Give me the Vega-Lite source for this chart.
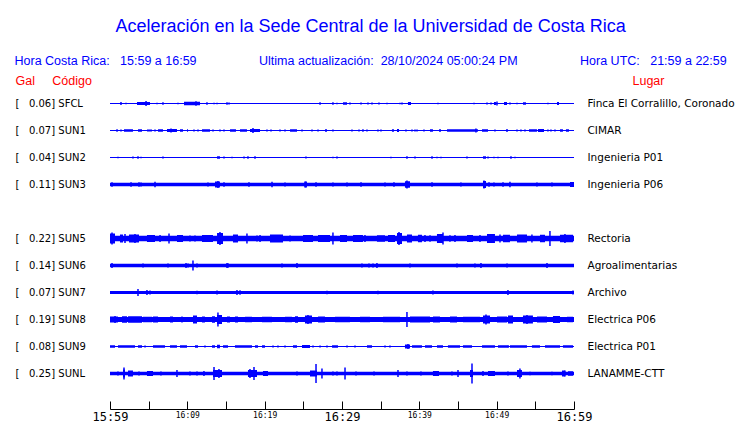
{
  "$schema": "https://vega.github.io/schema/vega-lite/v6.json",
  "width": 464,
  "height": 297,
  "autosize": {"type": "none"},
  "padding": {"left": 110, "top": 90, "right": 166, "bottom": 36},
  "background": "white",
  "config": {"view": {"stroke": null}},
  "title": {
    "text": "Aceleración en la Sede Central de la Universidad de Costa Rica",
    "subtitle": "Hora Costa Rica:\u00a0\u00a0\u00a015:59 a 16:59\u00a0\u00a0\u00a0\u00a0\u00a0\u00a0\u00a0\u00a0\u00a0\u00a0\u00a0\u00a0\u00a0\u00a0\u00a0\u00a0\u00a0\u00a0Ultima actualización:\u00a0\u00a028/10/2024 05:00:24 PM\u00a0\u00a0\u00a0\u00a0\u00a0\u00a0\u00a0\u00a0\u00a0\u00a0\u00a0\u00a0\u00a0\u00a0\u00a0\u00a0\u00a0\u00a0Hora UTC:\u00a0\u00a0\u00a021:59 a 22:59",
    "anchor": "middle",
    "frame": "bounds",
    "dx": -4,
    "font": "Liberation Sans",
    "fontSize": 18,
    "fontWeight": "normal",
    "color": "#0000ff",
    "subtitleFont": "Liberation Sans",
    "subtitleFontSize": 12.5,
    "subtitleColor": "#0000ff",
    "subtitlePadding": 19,
    "offset": 7
  },
  "datasets": {
    "tramos": [
      {"s":"SFCL","t0":0,"t1":60,"pp":0.01},
      {"s":"SFCL","t0":3.49,"t1":5.17,"pp":0.03},
      {"s":"SFCL","t0":9.57,"t1":11.64,"pp":0.035},
      {"s":"SFCL","t0":30.13,"t1":30.65,"pp":0.025},
      {"s":"SFCL","t0":38.53,"t1":38.92,"pp":0.03},
      {"s":"SFCL","t0":49.65,"t1":49.91,"pp":0.03},
      {"s":"SFCL","t0":50.95,"t1":51.34,"pp":0.03},
      {"s":"SFCL","t0":53.4,"t1":53.79,"pp":0.025},
      {"s":"SFCL","t0":57.8,"t1":58.06,"pp":0.03},

      {"s":"SUN1","t0":0,"t1":60,"pp":0.01},
      {"s":"SUN1","t0":1.81,"t1":2.97,"pp":0.025},
      {"s":"SUN1","t0":3.62,"t1":4.14,"pp":0.025},
      {"s":"SUN1","t0":4.78,"t1":5.43,"pp":0.02},
      {"s":"SUN1","t0":6.21,"t1":6.85,"pp":0.025},
      {"s":"SUN1","t0":7.37,"t1":8.66,"pp":0.03},
      {"s":"SUN1","t0":9.05,"t1":9.44,"pp":0.025},
      {"s":"SUN1","t0":9.96,"t1":10.09,"pp":0.025},
      {"s":"SUN1","t0":11.9,"t1":12.93,"pp":0.025},
      {"s":"SUN1","t0":15.52,"t1":16.29,"pp":0.025},
      {"s":"SUN1","t0":16.81,"t1":17.71,"pp":0.025},
      {"s":"SUN1","t0":18.1,"t1":19.4,"pp":0.03},
      {"s":"SUN1","t0":23.28,"t1":24.18,"pp":0.025},
      {"s":"SUN1","t0":27.8,"t1":28.06,"pp":0.025},
      {"s":"SUN1","t0":36.46,"t1":36.72,"pp":0.025},
      {"s":"SUN1","t0":37.11,"t1":37.37,"pp":0.03},
      {"s":"SUN1","t0":41.38,"t1":41.76,"pp":0.025},
      {"s":"SUN1","t0":42.54,"t1":42.8,"pp":0.025},
      {"s":"SUN1","t0":43.58,"t1":47.58,"pp":0.025},
      {"s":"SUN1","t0":48.1,"t1":48.88,"pp":0.025},
      {"s":"SUN1","t0":51.21,"t1":51.46,"pp":0.025},
      {"s":"SUN1","t0":54.18,"t1":55.21,"pp":0.025},
      {"s":"SUN1","t0":55.34,"t1":56.12,"pp":0.03},
      {"s":"SUN1","t0":58.19,"t1":58.57,"pp":0.025},
      {"s":"SUN1","t0":58.96,"t1":59.35,"pp":0.025},

      {"s":"SUN2","t0":0,"t1":60,"pp":0.01},
      {"s":"SUN2","t0":13.84,"t1":14.22,"pp":0.025},
      {"s":"SUN2","t0":48.23,"t1":48.62,"pp":0.025},

      {"s":"SUN3","t0":0,"t1":60,"pp":0.035},
      {"s":"SUN3","t0":59.48,"t1":60,"pp":0.05},
      {"s":"SUN3","t0":13.58,"t1":14.22,"pp":0.06},
      {"s":"SUN3","t0":25.21,"t1":25.47,"pp":0.06},
      {"s":"SUN3","t0":38.14,"t1":38.79,"pp":0.065},
      {"s":"SUN3","t0":48.23,"t1":48.62,"pp":0.07},

      {"s":"SUN5","t0":0,"t1":60,"pp":0.055},
      {"s":"SUN5","t0":0,"t1":0.65,"pp":0.1},
      {"s":"SUN5","t0":1.29,"t1":1.68,"pp":0.08},
      {"s":"SUN5","t0":2.46,"t1":3.75,"pp":0.08},
      {"s":"SUN5","t0":4.78,"t1":5.82,"pp":0.07},
      {"s":"SUN5","t0":8.66,"t1":9.44,"pp":0.07},
      {"s":"SUN5","t0":11.9,"t1":13.32,"pp":0.07},
      {"s":"SUN5","t0":13.84,"t1":14.61,"pp":0.11},
      {"s":"SUN5","t0":15.9,"t1":16.55,"pp":0.08},
      {"s":"SUN5","t0":20.69,"t1":22.37,"pp":0.08},
      {"s":"SUN5","t0":24.96,"t1":26.25,"pp":0.07},
      {"s":"SUN5","t0":26.9,"t1":28.45,"pp":0.07},
      {"s":"SUN5","t0":29.74,"t1":30.65,"pp":0.07},
      {"s":"SUN5","t0":31.42,"t1":32.71,"pp":0.07},
      {"s":"SUN5","t0":34.52,"t1":35.56,"pp":0.065},
      {"s":"SUN5","t0":35.95,"t1":36.85,"pp":0.07},
      {"s":"SUN5","t0":37.11,"t1":37.76,"pp":0.11},
      {"s":"SUN5","t0":38.4,"t1":39.05,"pp":0.08},
      {"s":"SUN5","t0":39.82,"t1":40.34,"pp":0.075},
      {"s":"SUN5","t0":42.28,"t1":43.06,"pp":0.09},
      {"s":"SUN5","t0":46.16,"t1":46.94,"pp":0.07},
      {"s":"SUN5","t0":48.75,"t1":49.78,"pp":0.09},
      {"s":"SUN5","t0":50.82,"t1":51.72,"pp":0.075},
      {"s":"SUN5","t0":52.63,"t1":53.92,"pp":0.08},
      {"s":"SUN5","t0":55.6,"t1":56.25,"pp":0.075},
      {"s":"SUN5","t0":58.19,"t1":59.87,"pp":0.075},

      {"s":"SUN6","t0":0,"t1":60,"pp":0.035},

      {"s":"SUN7","t0":0,"t1":60,"pp":0.03},

      {"s":"SUN8","t0":0,"t1":60,"pp":0.05},
      {"s":"SUN8","t0":0,"t1":1.03,"pp":0.06},
      {"s":"SUN8","t0":1.55,"t1":2.2,"pp":0.065},
      {"s":"SUN8","t0":2.33,"t1":4.14,"pp":0.065},
      {"s":"SUN8","t0":4.27,"t1":5.43,"pp":0.055},
      {"s":"SUN8","t0":5.56,"t1":6.21,"pp":0.06},
      {"s":"SUN8","t0":7.76,"t1":8.15,"pp":0.06},
      {"s":"SUN8","t0":10.73,"t1":11.25,"pp":0.08},
      {"s":"SUN8","t0":11.9,"t1":12.28,"pp":0.06},
      {"s":"SUN8","t0":13.19,"t1":13.58,"pp":0.065},
      {"s":"SUN8","t0":13.84,"t1":14.48,"pp":0.09},
      {"s":"SUN8","t0":15.13,"t1":15.52,"pp":0.06},
      {"s":"SUN8","t0":16.16,"t1":16.55,"pp":0.06},
      {"s":"SUN8","t0":17.46,"t1":18.36,"pp":0.055},
      {"s":"SUN8","t0":19.65,"t1":20.95,"pp":0.055},
      {"s":"SUN8","t0":22.63,"t1":23.53,"pp":0.055},
      {"s":"SUN8","t0":23.92,"t1":24.31,"pp":0.065},
      {"s":"SUN8","t0":25.21,"t1":26.12,"pp":0.08},
      {"s":"SUN8","t0":26.9,"t1":27.8,"pp":0.06},
      {"s":"SUN8","t0":29.09,"t1":31.03,"pp":0.055},
      {"s":"SUN8","t0":32.33,"t1":33.62,"pp":0.055},
      {"s":"SUN8","t0":35.3,"t1":37.5,"pp":0.055},
      {"s":"SUN8","t0":38.79,"t1":41.38,"pp":0.06},
      {"s":"SUN8","t0":41.76,"t1":42.67,"pp":0.06},
      {"s":"SUN8","t0":43.96,"t1":44.87,"pp":0.06},
      {"s":"SUN8","t0":45.64,"t1":47.84,"pp":0.055},
      {"s":"SUN8","t0":48.23,"t1":49.14,"pp":0.08},
      {"s":"SUN8","t0":50.04,"t1":51.34,"pp":0.06},
      {"s":"SUN8","t0":51.46,"t1":52.11,"pp":0.08},
      {"s":"SUN8","t0":53.4,"t1":54.69,"pp":0.08},
      {"s":"SUN8","t0":55.21,"t1":56.51,"pp":0.06},
      {"s":"SUN8","t0":57.28,"t1":58.19,"pp":0.07},
      {"s":"SUN8","t0":59.09,"t1":59.87,"pp":0.055},

      {"s":"SUN9","t0":0,"t1":60,"pp":0.01},
      {"s":"SUN9","t0":0,"t1":0.65,"pp":0.025},
      {"s":"SUN9","t0":1.03,"t1":3.23,"pp":0.025},
      {"s":"SUN9","t0":3.62,"t1":4.14,"pp":0.025},
      {"s":"SUN9","t0":5.56,"t1":7.11,"pp":0.025},
      {"s":"SUN9","t0":7.76,"t1":8.66,"pp":0.025},
      {"s":"SUN9","t0":9.05,"t1":9.96,"pp":0.025},
      {"s":"SUN9","t0":10.99,"t1":11.38,"pp":0.025},
      {"s":"SUN9","t0":13.19,"t1":13.58,"pp":0.025},
      {"s":"SUN9","t0":13.84,"t1":14.22,"pp":0.035},
      {"s":"SUN9","t0":14.61,"t1":15.26,"pp":0.025},
      {"s":"SUN9","t0":16.16,"t1":18.36,"pp":0.025},
      {"s":"SUN9","t0":18.75,"t1":19.14,"pp":0.025},
      {"s":"SUN9","t0":19.65,"t1":20.04,"pp":0.025},
      {"s":"SUN9","t0":23.66,"t1":24.18,"pp":0.025},
      {"s":"SUN9","t0":24.83,"t1":25.86,"pp":0.03},
      {"s":"SUN9","t0":28.71,"t1":29.48,"pp":0.025},
      {"s":"SUN9","t0":33.23,"t1":33.88,"pp":0.025},
      {"s":"SUN9","t0":38.14,"t1":38.79,"pp":0.04},
      {"s":"SUN9","t0":39.05,"t1":40.34,"pp":0.025},
      {"s":"SUN9","t0":40.73,"t1":41.64,"pp":0.025},
      {"s":"SUN9","t0":42.28,"t1":43.06,"pp":0.025},
      {"s":"SUN9","t0":43.7,"t1":45.26,"pp":0.025},
      {"s":"SUN9","t0":45.64,"t1":46.81,"pp":0.025},
      {"s":"SUN9","t0":48.1,"t1":49.78,"pp":0.025},
      {"s":"SUN9","t0":50.17,"t1":51.34,"pp":0.025},
      {"s":"SUN9","t0":51.72,"t1":53.92,"pp":0.025},
      {"s":"SUN9","t0":54.56,"t1":55.6,"pp":0.025},
      {"s":"SUN9","t0":56.25,"t1":58.19,"pp":0.025},
      {"s":"SUN9","t0":58.57,"t1":59.87,"pp":0.025},

      {"s":"SUNL","t0":0,"t1":60,"pp":0.035},
      {"s":"SUNL","t0":1.68,"t1":1.94,"pp":0.08},
      {"s":"SUNL","t0":2.33,"t1":2.97,"pp":0.06},
      {"s":"SUNL","t0":4.78,"t1":5.56,"pp":0.05},
      {"s":"SUNL","t0":13.32,"t1":14.48,"pp":0.07},
      {"s":"SUNL","t0":17.84,"t1":19.01,"pp":0.07},
      {"s":"SUNL","t0":19.78,"t1":20.43,"pp":0.05},
      {"s":"SUNL","t0":25.86,"t1":26.77,"pp":0.06},
      {"s":"SUNL","t0":41.76,"t1":42.54,"pp":0.05},
      {"s":"SUNL","t0":46.55,"t1":46.94,"pp":0.07},
      {"s":"SUNL","t0":48.88,"t1":49.78,"pp":0.05},
      {"s":"SUNL","t0":52.63,"t1":53.27,"pp":0.07},
      {"s":"SUNL","t0":58.45,"t1":58.83,"pp":0.06},
      {"s":"SUNL","t0":59.22,"t1":59.87,"pp":0.045}
    ],
    "picos": [
      {"s":"SFCL","t":1.42,"pp":0.03},{"s":"SFCL","t":2.07,"pp":0.015},{"s":"SFCL","t":4.66,"pp":0.05},{"s":"SFCL","t":6.08,"pp":0.015},
      {"s":"SFCL","t":6.85,"pp":0.025},{"s":"SFCL","t":8.79,"pp":0.015},{"s":"SFCL","t":11.12,"pp":0.045},{"s":"SFCL","t":12.54,"pp":0.025},
      {"s":"SFCL","t":13.45,"pp":0.015},{"s":"SFCL","t":13.84,"pp":0.015},{"s":"SFCL","t":15.13,"pp":0.025},{"s":"SFCL","t":15.39,"pp":0.02},
      {"s":"SFCL","t":27.16,"pp":0.025},{"s":"SFCL","t":28.83,"pp":0.025},{"s":"SFCL","t":29.35,"pp":0.015},{"s":"SFCL","t":31.03,"pp":0.02},
      {"s":"SFCL","t":32.46,"pp":0.02},{"s":"SFCL","t":33.36,"pp":0.02},{"s":"SFCL","t":33.88,"pp":0.02},{"s":"SFCL","t":34.78,"pp":0.02},
      {"s":"SFCL","t":35.82,"pp":0.015},{"s":"SFCL","t":37.5,"pp":0.015},{"s":"SFCL","t":37.76,"pp":0.02},{"s":"SFCL","t":42.41,"pp":0.015},
      {"s":"SFCL","t":47.07,"pp":0.015},{"s":"SFCL","t":48.75,"pp":0.02},{"s":"SFCL","t":49.27,"pp":0.02},{"s":"SFCL","t":50.04,"pp":0.04},
      {"s":"SFCL","t":51.72,"pp":0.02},{"s":"SFCL","t":52.63,"pp":0.015},{"s":"SFCL","t":56.63,"pp":0.015},

      {"s":"SUN1","t":0.91,"pp":0.025},{"s":"SUN1","t":1.42,"pp":0.02},{"s":"SUN1","t":5.82,"pp":0.02},{"s":"SUN1","t":7.89,"pp":0.04},
      {"s":"SUN1","t":10.86,"pp":0.02},{"s":"SUN1","t":11.38,"pp":0.02},{"s":"SUN1","t":13.32,"pp":0.02},{"s":"SUN1","t":14.22,"pp":0.02},
      {"s":"SUN1","t":14.74,"pp":0.02},{"s":"SUN1","t":18.49,"pp":0.05},{"s":"SUN1","t":20.3,"pp":0.02},{"s":"SUN1","t":20.82,"pp":0.02},
      {"s":"SUN1","t":21.98,"pp":0.02},{"s":"SUN1","t":22.63,"pp":0.02},{"s":"SUN1","t":24.83,"pp":0.02},{"s":"SUN1","t":26.12,"pp":0.02},
      {"s":"SUN1","t":26.9,"pp":0.02},{"s":"SUN1","t":28.83,"pp":0.02},{"s":"SUN1","t":31.29,"pp":0.02},{"s":"SUN1","t":32.2,"pp":0.02},
      {"s":"SUN1","t":32.71,"pp":0.025},{"s":"SUN1","t":33.23,"pp":0.02},{"s":"SUN1","t":34.65,"pp":0.02},{"s":"SUN1","t":35.04,"pp":0.02},
      {"s":"SUN1","t":38.27,"pp":0.02},{"s":"SUN1","t":39.05,"pp":0.02},{"s":"SUN1","t":39.44,"pp":0.02},{"s":"SUN1","t":39.7,"pp":0.02},
      {"s":"SUN1","t":40.6,"pp":0.02},{"s":"SUN1","t":47.32,"pp":0.04},{"s":"SUN1","t":49.78,"pp":0.02},{"s":"SUN1","t":52.63,"pp":0.02},
      {"s":"SUN1","t":53.14,"pp":0.02},{"s":"SUN1","t":53.66,"pp":0.02},{"s":"SUN1","t":56.63,"pp":0.02},{"s":"SUN1","t":57.02,"pp":0.02},
      {"s":"SUN1","t":57.54,"pp":0.02},

      {"s":"SUN2","t":1.03,"pp":0.015},{"s":"SUN2","t":2.97,"pp":0.02},{"s":"SUN2","t":3.62,"pp":0.025},{"s":"SUN2","t":4.01,"pp":0.015},
      {"s":"SUN2","t":6.85,"pp":0.02},{"s":"SUN2","t":14.74,"pp":0.02},{"s":"SUN2","t":15.78,"pp":0.015},{"s":"SUN2","t":17.33,"pp":0.02},
      {"s":"SUN2","t":17.84,"pp":0.025},{"s":"SUN2","t":18.75,"pp":0.025},{"s":"SUN2","t":25.34,"pp":0.02},{"s":"SUN2","t":28.83,"pp":0.015},
      {"s":"SUN2","t":29.35,"pp":0.02},{"s":"SUN2","t":36.33,"pp":0.015},{"s":"SUN2","t":38.4,"pp":0.025},{"s":"SUN2","t":39.44,"pp":0.02},
      {"s":"SUN2","t":41.64,"pp":0.025},{"s":"SUN2","t":42.28,"pp":0.015},{"s":"SUN2","t":42.8,"pp":0.015},{"s":"SUN2","t":46.16,"pp":0.02},
      {"s":"SUN2","t":48.88,"pp":0.02},{"s":"SUN2","t":49.65,"pp":0.015},{"s":"SUN2","t":50.17,"pp":0.015},{"s":"SUN2","t":51.85,"pp":0.025},
      {"s":"SUN2","t":52.37,"pp":0.015},

      {"s":"SUN3","t":0.26,"pp":0.045},{"s":"SUN3","t":2.72,"pp":0.045},{"s":"SUN3","t":3.75,"pp":0.045},{"s":"SUN3","t":4.01,"pp":0.04},
      {"s":"SUN3","t":5.82,"pp":0.055},{"s":"SUN3","t":12.67,"pp":0.04},{"s":"SUN3","t":13.96,"pp":0.07},{"s":"SUN3","t":14.74,"pp":0.045},
      {"s":"SUN3","t":17.97,"pp":0.045},{"s":"SUN3","t":20.95,"pp":0.055},{"s":"SUN3","t":22.63,"pp":0.04},{"s":"SUN3","t":25.21,"pp":0.06},
      {"s":"SUN3","t":26.64,"pp":0.045},{"s":"SUN3","t":28.83,"pp":0.04},{"s":"SUN3","t":30.65,"pp":0.04},{"s":"SUN3","t":32.46,"pp":0.045},
      {"s":"SUN3","t":35.56,"pp":0.04},{"s":"SUN3","t":36.72,"pp":0.045},{"s":"SUN3","t":38.4,"pp":0.08},{"s":"SUN3","t":41.64,"pp":0.045},
      {"s":"SUN3","t":45.38,"pp":0.04},{"s":"SUN3","t":48.36,"pp":0.08},{"s":"SUN3","t":49.01,"pp":0.045},{"s":"SUN3","t":49.65,"pp":0.04},
      {"s":"SUN3","t":50.82,"pp":0.045},{"s":"SUN3","t":51.72,"pp":0.055},{"s":"SUN3","t":55.21,"pp":0.04},{"s":"SUN3","t":57.15,"pp":0.04},

      {"s":"SUN5","t":0.26,"pp":0.12},{"s":"SUN5","t":1.94,"pp":0.09},{"s":"SUN5","t":3.23,"pp":0.09},{"s":"SUN5","t":6.47,"pp":0.07},
      {"s":"SUN5","t":7.63,"pp":0.1},{"s":"SUN5","t":10.34,"pp":0.06},{"s":"SUN5","t":10.99,"pp":0.06},{"s":"SUN5","t":14.22,"pp":0.13},
      {"s":"SUN5","t":17.71,"pp":0.1},{"s":"SUN5","t":19.01,"pp":0.06},{"s":"SUN5","t":19.4,"pp":0.07},{"s":"SUN5","t":23.28,"pp":0.06},
      {"s":"SUN5","t":28.83,"pp":0.12},{"s":"SUN5","t":32.97,"pp":0.07},{"s":"SUN5","t":37.37,"pp":0.13},{"s":"SUN5","t":40.73,"pp":0.07},
      {"s":"SUN5","t":41.38,"pp":0.065},{"s":"SUN5","t":43.06,"pp":0.12},{"s":"SUN5","t":43.96,"pp":0.065},{"s":"SUN5","t":44.61,"pp":0.07},
      {"s":"SUN5","t":47.84,"pp":0.07},{"s":"SUN5","t":50.43,"pp":0.08},{"s":"SUN5","t":54.56,"pp":0.08},{"s":"SUN5","t":56.89,"pp":0.15},
      {"s":"SUN5","t":58.83,"pp":0.09},

      {"s":"SUN6","t":0.26,"pp":0.05},{"s":"SUN6","t":4.27,"pp":0.04},{"s":"SUN6","t":7.5,"pp":0.04},{"s":"SUN6","t":9.83,"pp":0.05},
      {"s":"SUN6","t":10.09,"pp":0.04},{"s":"SUN6","t":10.73,"pp":0.1},{"s":"SUN6","t":11.25,"pp":0.04},{"s":"SUN6","t":15.13,"pp":0.05},
      {"s":"SUN6","t":15.26,"pp":0.045},{"s":"SUN6","t":22.24,"pp":0.04},{"s":"SUN6","t":24.18,"pp":0.05},{"s":"SUN6","t":32.58,"pp":0.04},
      {"s":"SUN6","t":33.49,"pp":0.04},{"s":"SUN6","t":34.01,"pp":0.04},{"s":"SUN6","t":34.52,"pp":0.05},{"s":"SUN6","t":38.79,"pp":0.04},
      {"s":"SUN6","t":44.87,"pp":0.04},{"s":"SUN6","t":47.19,"pp":0.04},{"s":"SUN6","t":47.97,"pp":0.05},{"s":"SUN6","t":51.34,"pp":0.04},
      {"s":"SUN6","t":56.51,"pp":0.05},

      {"s":"SUN7","t":3.62,"pp":0.07},{"s":"SUN7","t":4.78,"pp":0.05},{"s":"SUN7","t":5.17,"pp":0.04},{"s":"SUN7","t":11.25,"pp":0.035},
      {"s":"SUN7","t":13.84,"pp":0.04},{"s":"SUN7","t":16.42,"pp":0.05},{"s":"SUN7","t":16.81,"pp":0.045},{"s":"SUN7","t":28.06,"pp":0.035},
      {"s":"SUN7","t":34.65,"pp":0.035},{"s":"SUN7","t":41.76,"pp":0.04},{"s":"SUN7","t":51.46,"pp":0.05},{"s":"SUN7","t":59.87,"pp":0.04},

      {"s":"SUN8","t":0.65,"pp":0.07},{"s":"SUN8","t":9.31,"pp":0.06},{"s":"SUN8","t":13.96,"pp":0.14},{"s":"SUN8","t":25.6,"pp":0.09},
      {"s":"SUN8","t":38.4,"pp":0.15},{"s":"SUN8","t":48.62,"pp":0.1},{"s":"SUN8","t":53.92,"pp":0.09},

      {"s":"SUN9","t":4.53,"pp":0.02},{"s":"SUN9","t":12.28,"pp":0.02},{"s":"SUN9","t":21.08,"pp":0.02},{"s":"SUN9","t":21.72,"pp":0.02},
      {"s":"SUN9","t":22.63,"pp":0.02},{"s":"SUN9","t":26.25,"pp":0.02},{"s":"SUN9","t":27.16,"pp":0.02},{"s":"SUN9","t":28.06,"pp":0.02},
      {"s":"SUN9","t":30.65,"pp":0.02},{"s":"SUN9","t":31.68,"pp":0.02},{"s":"SUN9","t":35.56,"pp":0.02},{"s":"SUN9","t":36.2,"pp":0.02},
      {"s":"SUN9","t":38.53,"pp":0.05},{"s":"SUN9","t":51.46,"pp":0.03},

      {"s":"SUNL","t":1.03,"pp":0.04},{"s":"SUNL","t":1.81,"pp":0.12},{"s":"SUNL","t":3.75,"pp":0.04},{"s":"SUNL","t":6.59,"pp":0.04},
      {"s":"SUNL","t":8.66,"pp":0.07},{"s":"SUNL","t":10.34,"pp":0.04},{"s":"SUNL","t":11.25,"pp":0.04},{"s":"SUNL","t":12.15,"pp":0.05},
      {"s":"SUNL","t":13.45,"pp":0.13},{"s":"SUNL","t":14.09,"pp":0.09},{"s":"SUNL","t":18.1,"pp":0.09},{"s":"SUNL","t":18.62,"pp":0.13},
      {"s":"SUNL","t":24.18,"pp":0.04},{"s":"SUNL","t":26.64,"pp":0.19},{"s":"SUNL","t":27.41,"pp":0.1},{"s":"SUNL","t":28.83,"pp":0.04},
      {"s":"SUNL","t":29.35,"pp":0.04},{"s":"SUNL","t":30.39,"pp":0.12},{"s":"SUNL","t":31.81,"pp":0.04},{"s":"SUNL","t":34.14,"pp":0.04},
      {"s":"SUNL","t":37.24,"pp":0.07},{"s":"SUNL","t":38.4,"pp":0.04},{"s":"SUNL","t":40.21,"pp":0.04},{"s":"SUNL","t":44.22,"pp":0.04},
      {"s":"SUNL","t":45.0,"pp":0.07},{"s":"SUNL","t":46.81,"pp":0.2},{"s":"SUNL","t":48.23,"pp":0.05},{"s":"SUNL","t":51.46,"pp":0.04},
      {"s":"SUNL","t":53.01,"pp":0.1},{"s":"SUNL","t":54.31,"pp":0.035},{"s":"SUNL","t":57.15,"pp":0.035},{"s":"SUNL","t":58.83,"pp":0.06}
    ]
  },
  "layer": [
    {
      "data": {"name": "tramos"},
      "mark": {"type": "bar", "color": "#0000ff", "opacity": 1},
      "encoding": {
        "x": {
          "field": "t0", "type": "quantitative",
          "scale": {"domain": [0, 60], "nice": false, "zero": false},
          "axis": {
            "orient": "bottom", "offset": 22, "title": null, "grid": false,
            "values": [0, 5, 10, 15, 20, 25, 30, 35, 40, 45, 50, 55, 60],
            "tickSize": -8, "tickColor": "black", "domainColor": "black",
            "labelColor": "black", "labelFont": "DejaVu Sans Mono",
            "labelFontSize": {"condition": {"test": "datum.value % 30 === 0", "value": 12}, "value": 8},
            "labelExpr": "datum.value % 10 ? '' : timeFormat(datetime(2024, 9, 28, 15, 59 + datum.value), '%H:%M')",
            "labelBaseline": "top", "labelPadding": 10, "labelFlush": false, "labelOverlap": false
          }
        },
        "x2": {"field": "t1"},
        "y": {
          "field": "s", "type": "nominal",
          "scale": {"domain": ["SFCL", "SUN1", "SUN2", "SUN3", "SUN4", "SUN5", "SUN6", "SUN7", "SUN8", "SUN9", "SUNL"], "paddingInner": 0, "paddingOuter": 0},
          "axis": {
            "orient": "left", "domain": false, "ticks": false, "tickSize": 0, "grid": false,
            "labelAlign": "left", "labelBaseline": "middle", "labelPadding": 95,
            "labelFont": "DejaVu Sans", "labelFontSize": 10, "labelColor": "black", "labelOverlap": false,
            "labelExpr": "{'SFCL': '[\u00a0\u00a0\u00a00.06] SFCL', 'SUN1': '[\u00a0\u00a0\u00a00.07] SUN1', 'SUN2': '[\u00a0\u00a0\u00a00.04] SUN2', 'SUN3': '[\u00a0\u00a0\u00a00.11] SUN3', 'SUN5': '[\u00a0\u00a0\u00a00.22] SUN5', 'SUN6': '[\u00a0\u00a0\u00a00.14] SUN6', 'SUN7': '[\u00a0\u00a0\u00a00.07] SUN7', 'SUN8': '[\u00a0\u00a0\u00a00.19] SUN8', 'SUN9': '[\u00a0\u00a0\u00a00.08] SUN9', 'SUNL': '[\u00a0\u00a0\u00a00.25] SUNL'}[datum.value] || ''",
            "title": "Gal\u00a0\u00a0\u00a0\u00a0\u00a0Código", "titleAngle": 0, "titleAlign": "left", "titleBaseline": "middle",
            "titleX": -95, "titleY": -10, "titleColor": "#ff0000", "titleFont": "Liberation Sans",
            "titleFontSize": 12.5, "titleFontWeight": "normal"
          }
        },
        "size": {"field": "pp", "type": "quantitative", "scale": {"domain": [0, 0.2], "range": [0, 20]}, "legend": null}
      }
    },
    {
      "data": {"name": "picos"},
      "mark": {"type": "tick", "color": "#0000ff", "opacity": 1, "thickness": 1.5},
      "encoding": {
        "x": {
          "field": "t", "type": "quantitative",
          "scale": {"domain": [0, 60], "nice": false, "zero": false},
          "axis": {
            "orient": "bottom", "offset": 22, "title": null, "grid": false,
            "values": [0, 5, 10, 15, 20, 25, 30, 35, 40, 45, 50, 55, 60],
            "tickSize": -8, "tickColor": "black", "domainColor": "black",
            "labelColor": "black", "labelFont": "DejaVu Sans Mono",
            "labelFontSize": {"condition": {"test": "datum.value % 30 === 0", "value": 12}, "value": 8},
            "labelExpr": "datum.value % 10 ? '' : timeFormat(datetime(2024, 9, 28, 15, 59 + datum.value), '%H:%M')",
            "labelBaseline": "top", "labelPadding": 10, "labelFlush": false, "labelOverlap": false
          }
        },
        "y": {
          "field": "s", "type": "nominal",
          "scale": {"domain": ["SFCL", "SUN1", "SUN2", "SUN3", "SUN4", "SUN5", "SUN6", "SUN7", "SUN8", "SUN9", "SUNL"], "paddingInner": 0, "paddingOuter": 0},
          "axis": {
            "orient": "right", "domain": false, "ticks": false, "tickSize": 0, "grid": false,
            "labelAlign": "left", "labelBaseline": "middle", "labelPadding": 13,
            "labelFont": "DejaVu Sans", "labelFontSize": 10.5, "labelColor": "black", "labelOverlap": false,
            "labelExpr": "{'SFCL': 'Finca El Corralillo, Coronado', 'SUN1': 'CIMAR', 'SUN2': 'Ingenieria P01', 'SUN3': 'Ingenieria P06', 'SUN5': 'Rectoria', 'SUN6': 'Agroalimentarias', 'SUN7': 'Archivo', 'SUN8': 'Electrica P06', 'SUN9': 'Electrica P01', 'SUNL': 'LANAMME-CTT'}[datum.value] || ''",
            "title": "Lugar", "titleAngle": 0, "titleAlign": "left", "titleBaseline": "middle",
            "titleX": 58, "titleY": -10, "titleColor": "#ff0000", "titleFont": "Liberation Sans",
            "titleFontSize": 12.5, "titleFontWeight": "normal"
          }
        },
        "size": {"field": "pp", "type": "quantitative", "scale": {"domain": [0, 0.2], "range": [0, 20]}, "legend": null}
      }
    }
  ],
  "resolve": {"axis": {"y": "independent"}}
}
